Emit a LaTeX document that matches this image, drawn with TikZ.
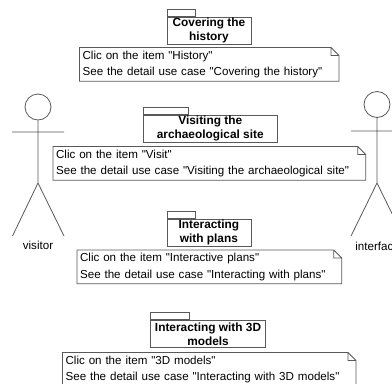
\documentclass[tikz,border=0pt]{standalone}
\usepackage{fontspec}
\setmainfont{Liberation Sans}[Ligatures=TeXOff]
\begin{document}
\begin{tikzpicture}[x=0.75pt,y=-0.75pt,line width=0.6pt,
  line/.style={draw=black!65},
  pkg body/.style={draw=black!65,rectangle,inner sep=0pt,anchor=north west,align=center,font=\fontsize{8.9}{10.5}\selectfont\bfseries,minimum height=20.25pt},
  pkg tab/.style={draw=black!65,rectangle,inner sep=0pt,anchor=south west,minimum height=5.25pt},
  note box/.style={rectangle,inner sep=0pt,anchor=north west,align=left,font=\fontsize{8.7}{12.5}\selectfont,minimum height=24.75pt},
  head/.style={draw=black!65,circle,inner sep=0pt,minimum size=19.5pt},
  actor label/.style={font=\fontsize{8.7}{10}\selectfont}]

  \useasboundingbox (0,0) rectangle (392,383);

  % packages
  \node[pkg body, minimum width=63pt] (pkgA) at (166.5,17) {Covering the\\history};
  \node[pkg tab, minimum width=21pt] (tabA) at (pkgA.north west) {};
  \node[pkg body, minimum width=101pt] (pkgB) at (142.5,115) {Visiting the\\archaeological site};
  \node[pkg tab, minimum width=34pt] (tabB) at (pkgB.north west) {};
  \node[pkg body, minimum width=63pt] (pkgC) at (166.5,218.5) {Interacting\\with plans};
  \node[pkg tab, minimum width=21pt] (tabC) at (pkgC.north west) {};
  \node[pkg body, minimum width=86.5pt] (pkgD) at (150,320) {Interacting with 3D\\models};
  \node[pkg tab, minimum width=29pt] (tabD) at (pkgD.north west) {};

  % notes
  \node[note box, text width=194pt] (noteA) at (79.5,47.5) {\hspace*{2pt}Clic on the item "History"\\\hspace*{2pt}See the detail use case "Covering the history"};
  \node[note box, text width=234pt] (noteB) at (53,146.5) {\hspace*{2pt}Clic on the item "Visit"\\\hspace*{2pt}See the detail use case "Visiting the archaeological site"};
  \node[note box, text width=198pt] (noteC) at (77,250) {\hspace*{2pt}Clic on the item "Interactive plans"\\\hspace*{2pt}See the detail use case "Interacting with plans"};
  \node[note box, text width=219.5pt] (noteD) at (62.5,352.5) {\hspace*{2pt}Clic on the item "3D models"\\\hspace*{2pt}See the detail use case "Interacting with 3D models"};

  \foreach \n in {noteA,noteB,noteC,noteD}
    \draw[line] (\n.north west) -- ([xshift=-6pt]\n.north east) -- ([yshift=-6pt]\n.north east)
      -- (\n.south east) -- (\n.south west) -- cycle
      ([xshift=-6pt]\n.north east) -- ([xshift=-6pt,yshift=-6pt]\n.north east) -- ([yshift=-6pt]\n.north east);

  % actors
  \node[head] (headL) at (38,107) {};
  \coordinate (hipL) at (38,183);
  \coordinate (armLa) at (12,132);
  \coordinate (armLb) at (64,132);
  \coordinate (footLa) at (12.5,236);
  \coordinate (footLb) at (64,236);
  \node[actor label] (visitor) at (38,245) {visitor};

  \node[head] (headR) at (377,104.5) {};
  \coordinate (hipR) at (377,183);
  \coordinate (armRa) at (351,131);
  \coordinate (armRb) at (403,131);
  \coordinate (footRa) at (351,236);
  \coordinate (footRb) at (403,236);
  \node[actor label, anchor=west, inner sep=0pt] (interface) at (355,246) {interfac};

  \draw[line] (headL) -- (hipL) (armLa) -- (armLb) (footLa) -- (hipL) -- (footLb);
  \draw[line] (headR) -- (hipR) (armRa) -- (armRb) (footRa) -- (hipR) -- (footRb);
\end{tikzpicture}
\end{document}
